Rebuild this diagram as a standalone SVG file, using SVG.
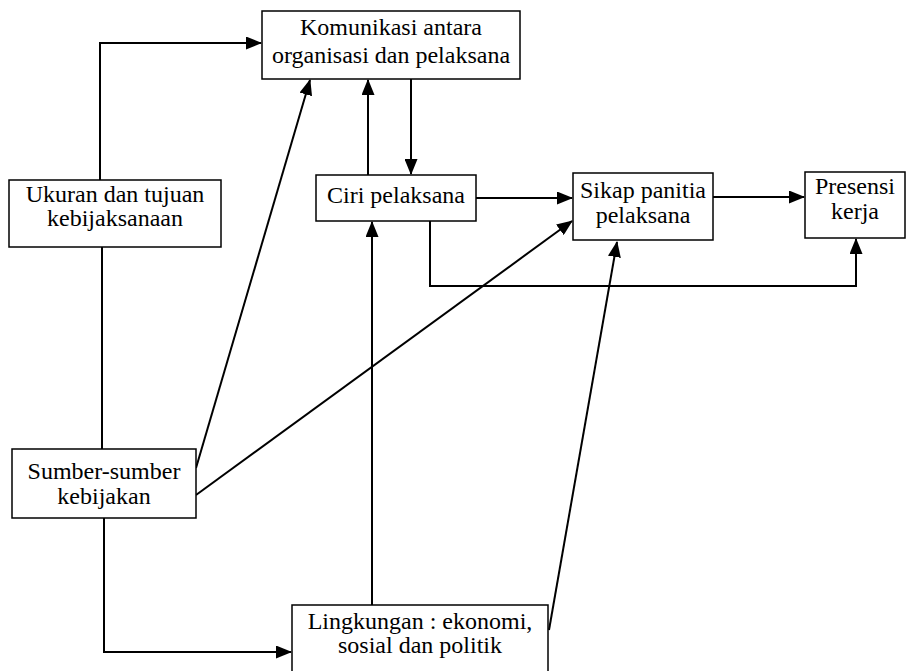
<svg xmlns="http://www.w3.org/2000/svg" width="907" height="671" viewBox="0 0 907 671">
<style>
.box{fill:#fff;stroke:#000;stroke-width:1.5}
.t{font-family:"Liberation Serif","Times New Roman",serif;font-size:24px;fill:#000;text-anchor:middle}
.c{fill:none;stroke:#000;stroke-width:2}
</style>
<defs>
<marker id="ah" markerUnits="userSpaceOnUse" markerWidth="16" markerHeight="13" refX="15" refY="6.5" orient="auto">
<path d="M0,0 L16,6.5 L0,13 z" fill="#000"/>
</marker>
</defs>
<rect width="907" height="671" fill="#fff"/>
<g id="connectors">
<path class="c" d="M100,180 V43 H261" marker-end="url(#ah)"/>
<path class="c" d="M102,247 V449"/>
<path class="c" d="M104,518 V652 H291" marker-end="url(#ah)"/>
<path class="c" d="M196,468 L310,80" marker-end="url(#ah)"/>
<path class="c" d="M196,495 L572,221" marker-end="url(#ah)"/>
<path class="c" d="M411,79 V174" marker-end="url(#ah)"/>
<path class="c" d="M368,175 V80" marker-end="url(#ah)"/>
<path class="c" d="M372,605 V222" marker-end="url(#ah)"/>
<path class="c" d="M476,198 H572" marker-end="url(#ah)"/>
<path class="c" d="M713,197 H804" marker-end="url(#ah)"/>
<path class="c" d="M430,221 V286 H856 V239" marker-end="url(#ah)"/>
<path class="c" d="M549,630 L617,242" marker-end="url(#ah)"/>
</g>
<g id="komunikasi">
<rect class="box" x="262" y="11" width="258" height="68"/>
<text class="t" x="391" y="35">Komunikasi antara</text>
<text class="t" x="391" y="63">organisasi dan pelaksana</text>
</g>
<g id="ukuran">
<rect class="box" x="9" y="180" width="212" height="67"/>
<text class="t" x="115" y="202">Ukuran dan tujuan</text>
<text class="t" x="115" y="226">kebijaksanaan</text>
</g>
<g id="ciri">
<rect class="box" x="316" y="175" width="160" height="46"/>
<text class="t" x="396" y="203">Ciri pelaksana</text>
</g>
<g id="sikap">
<rect class="box" x="573" y="173" width="140" height="67"/>
<text class="t" x="643" y="198">Sikap panitia</text>
<text class="t" x="643" y="223">pelaksana</text>
</g>
<g id="presensi">
<rect class="box" x="805" y="172" width="100" height="66"/>
<text class="t" x="855" y="194">Presensi</text>
<text class="t" x="855" y="219">kerja</text>
</g>
<g id="sumber">
<rect class="box" x="12" y="449" width="184" height="69"/>
<text class="t" x="104" y="479">Sumber-sumber</text>
<text class="t" x="104" y="504">kebijakan</text>
</g>
<g id="lingkungan">
<rect class="box" x="292" y="605" width="256" height="80"/>
<text class="t" x="420" y="629">Lingkungan : ekonomi,</text>
<text class="t" x="420" y="653">sosial dan politik</text>
</g>
</svg>
